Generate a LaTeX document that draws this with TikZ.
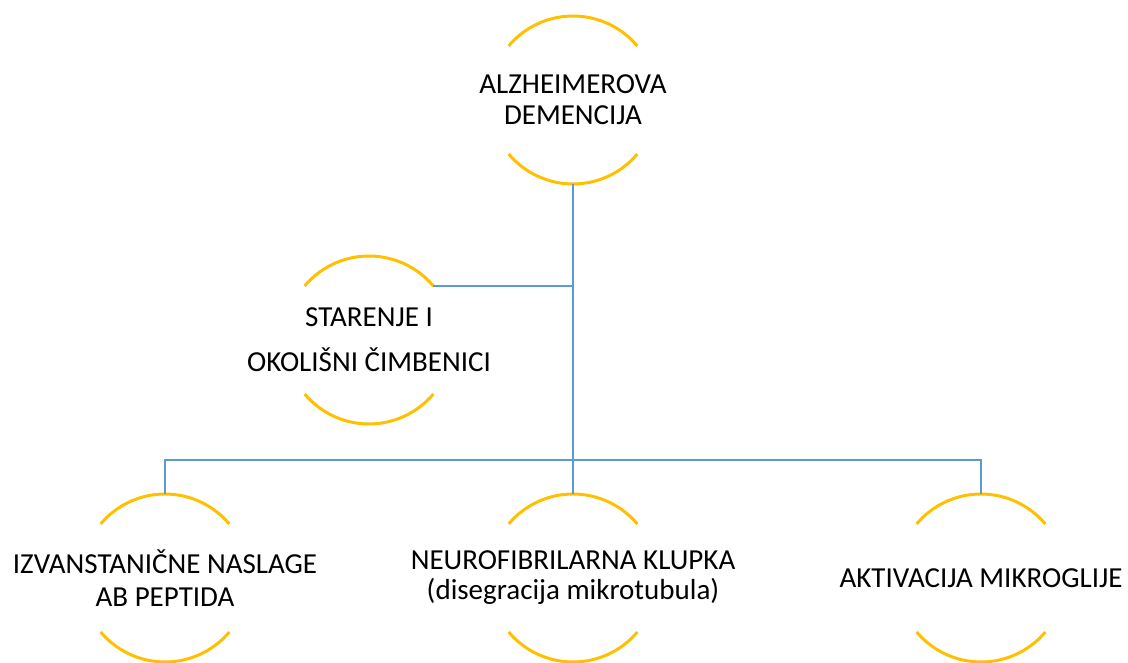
\documentclass[tikz,border=0pt]{standalone}
\usepackage{fontspec}
\setmainfont{Carlito}
\definecolor{gold}{HTML}{FFC000}
\definecolor{bluel}{HTML}{5B9BD5}
\begin{document}
\begin{tikzpicture}[x=1pt,y=1pt,
  ring/.style={circle,minimum size=168pt,inner sep=0pt,outer sep=0pt},
  arcline/.style={draw=gold,line width=3pt},
  conn/.style={draw=bluel,line width=2.6pt},
  lbl/.style={align=center,inner sep=0pt,font=\fontsize{29}{33}\selectfont}]
\useasboundingbox (0,0) rectangle (1128,662);
% rings
\node[ring] (a) at (573,562) {};
\node[ring] (s) at (369,322) {};
\node[ring] (l) at (165,84) {};
\node[ring] (m) at (573,84) {};
\node[ring] (r) at (981,84) {};
\foreach \n in {a,s,l,m,r}{
  \draw[arcline] (\n.40) arc[start angle=40,end angle=140,radius=84pt];
  \draw[arcline] (\n.220) arc[start angle=220,end angle=320,radius=84pt];
}
% connectors
\coordinate (bus) at (573,202);
\draw[conn] (a.south) -- (m.north);
\draw[conn] (l.north) |- (bus) -| (r.north);
\draw[conn] (s.40) -- (s.40 -| a.south);
% labels
\node[lbl,font=\fontsize{29}{31}\selectfont] (ta) at (a) {ALZHEIMEROVA\\DEMENCIJA};
\node[lbl,font=\fontsize{29}{45}\selectfont] (ts) at (s) {STARENJE I\\OKOLIŠNI ČIMBENICI};
\node[lbl] (tl) at (l) {IZVANSTANIČNE NASLAGE\\AB PEPTIDA};
\node[lbl,font=\fontsize{29}{30}\selectfont] (tm) at (m) {NEUROFIBRILARNA KLUPKA\\(disegracija mikrotubula)};
\node[lbl] (tr) at (r) {AKTIVACIJA MIKROGLIJE};
\end{tikzpicture}
\end{document}
